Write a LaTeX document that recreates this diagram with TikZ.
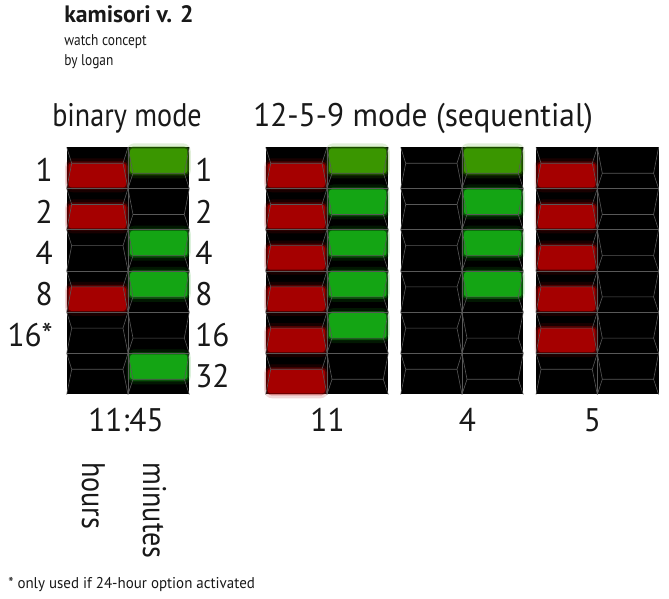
\documentclass[tikz,border=0pt]{standalone}
\usepackage{fontspec}
\setmainfont[FakeStretch=0.86]{PT Sans}
\newfontfamily\numfont[FakeStretch=0.96]{PT Sans}
\newfontfamily\headfont{PT Sans}
\usetikzlibrary{positioning}
\definecolor{inkclr}{RGB}{25,25,25}
\definecolor{ledred}{RGB}{165,0,0}
\definecolor{ledgrn}{RGB}{20,165,20}
\definecolor{ledgrntop}{RGB}{58,150,0}
\definecolor{segclr}{RGB}{88,88,88}
\tikzset{
  %% text
  titlelbl/.style={font=\headfont\fontsize{17.8}{19}\selectfont\bfseries,text=inkclr,inner sep=0pt},
  notelbl/.style={font=\fontsize{11.7}{13}\selectfont,text=inkclr,inner sep=0pt},
  fnlbl/.style={font=\numfont\fontsize{11.7}{13}\selectfont,text=inkclr,inner sep=0pt},
  wordlbl/.style={font=\fontsize{24.5}{26}\selectfont,text=inkclr,inner sep=0pt},
  numlbl/.style={font=\numfont\fontsize{24.5}{26}\selectfont,text=inkclr,inner sep=0pt},
  %% segment outlines
  segln/.style={draw=segclr,line width=0.45pt},
}
%% panel geometry (px)
\def\ptop{147.3}
\def\cw{61.3}
\def\rh{41.2}
%% one cell: x0, row, split offset
\newcommand{\segcell}[3]{%
  \pgfmathsetmacro\ya{\ptop+(#2-1)*\rh}
  \pgfmathsetmacro\yb{\ya+\rh}
  \pgfmathsetmacro\ys{\ya+#3}
  \pgfmathsetmacro\xb{#1+\cw}
  \draw[segln] (#1,\ya) -- (#1+5,\ys) -- (#1,\yb)
    (\xb,\ya) -- (\xb-5,\ys) -- (\xb,\yb)
    (#1+5,\ys) -- (\xb-5,\ys);
}
%% lit bar: x0, row, top offset, bottom offset, colour
\newcommand{\ledbar}[5]{%
  \pgfmathsetmacro\ya{\ptop+(#2-1)*\rh+#3}
  \pgfmathsetmacro\yb{\ptop+(#2-1)*\rh+#4}
  \pgfmathsetmacro\xb{#1+\cw}
  \fill[#5,opacity=.15,rounded corners=6pt] (#1-1.5,\ya-5) rectangle (\xb+1.5,\yb+5);
  \fill[#5,opacity=.4,rounded corners=4pt] (#1,\ya-2) rectangle (\xb,\yb+2);
  \fill[#5,rounded corners=2pt] (#1+2,\ya) rectangle (\xb-2,\yb);
}
%% whole panel outline: left x
\newcommand{\ledgrid}[1]{%
  \foreach \r in {1,...,6} {
    \segcell{#1}{\r}{16}
    \segcell{#1+\cw}{\r}{26}
  }
  \foreach \r in {1,...,5} {
    \draw[segln] (#1,{\ptop+\r*\rh}) -- (#1+2*\cw,{\ptop+\r*\rh});
  }
  \draw[segln] (#1+\cw,\ptop) -- (#1+\cw,\ptop+6*\rh);
}
\newcommand{\ledred}[2]{\ledbar{#1}{#2}{16}{40}{ledred}}
\newcommand{\ledgreen}[2]{%
  \ifnum#2=1 \ledbar{#1+\cw}{#2}{1}{26}{ledgrntop}%
  \else \ledbar{#1+\cw}{#2}{1}{26}{ledgrn}\fi}

\begin{document}
\begin{tikzpicture}[x=0.75pt,y=-0.75pt]
  \useasboundingbox[fill=white] (0,0) rectangle (669,599);

  %% heading
  \node[titlelbl,anchor=base west] (title) at (64,22.7) {kamisori v. 2};
  \node[notelbl,anchor=base west] (sub1) at (64,45.5) {watch concept};
  \node[notelbl,anchor=base west] (sub2) at (64,66) {by logan};

  \node[wordlbl,anchor=base west] (binhdr) at (52,127) {binary mode};
  \node[numlbl,anchor=base west] (seqhdr) at (253,127) {12-5-9 mode (sequential)};

  %% black panels
  \foreach \px in {66.7,265.7,400.7,536} {
    \fill[black] (\px,\ptop) rectangle ++(2*\cw,6*\rh);
  }

  %% binary mode 11:45
  \foreach \r in {1,2,4} {\ledred{66.7}{\r}}
  \foreach \r in {1,3,4,6} {\ledgreen{66.7}{\r}}
  %% sequential 11
  \foreach \r in {1,...,6} {\ledred{265.7}{\r}}
  \foreach \r in {1,...,5} {\ledgreen{265.7}{\r}}
  %% sequential 4
  \foreach \r in {1,...,4} {\ledgreen{400.7}{\r}}
  %% sequential 5
  \foreach \r in {1,...,5} {\ledred{536}{\r}}

  %% segment outlines
  \foreach \px in {66.7,265.7,400.7,536} {\ledgrid{\px}}

  %% bit weights
  \foreach \w [count=\r] in {1,2,4,8,16*}
    \node[numlbl,anchor=base east] (hw\r) at (53,{\ptop+(\r-0.5)*\rh+14}) {\w};
  \foreach \w [count=\r] in {1,2,4,8,16,32}
    \node[numlbl,anchor=base west] (mw\r) at (195,{\ptop+(\r-0.5)*\rh+14}) {\w};

  %% read-outs
  \node[numlbl,anchor=base] (tbin) at (126,432) {11:45};
  \node[numlbl,anchor=base] (t11) at (327.5,432) {11};
  \node[numlbl,anchor=base] (t4) at (467.5,432) {4};
  \node[numlbl,anchor=base] (t5) at (592.5,432) {5};

  %% column names
  \node[wordlbl,anchor=base west,rotate=-90] (hrs) at (82,462) {hours};
  \node[wordlbl,anchor=base west,rotate=-90] (mins) at (143,462) {minutes};

  %% footnote
  \node[fnlbl,anchor=base west] (fnote) at (8,589) {* only used if 24-hour option activated};
\end{tikzpicture}
\end{document}
